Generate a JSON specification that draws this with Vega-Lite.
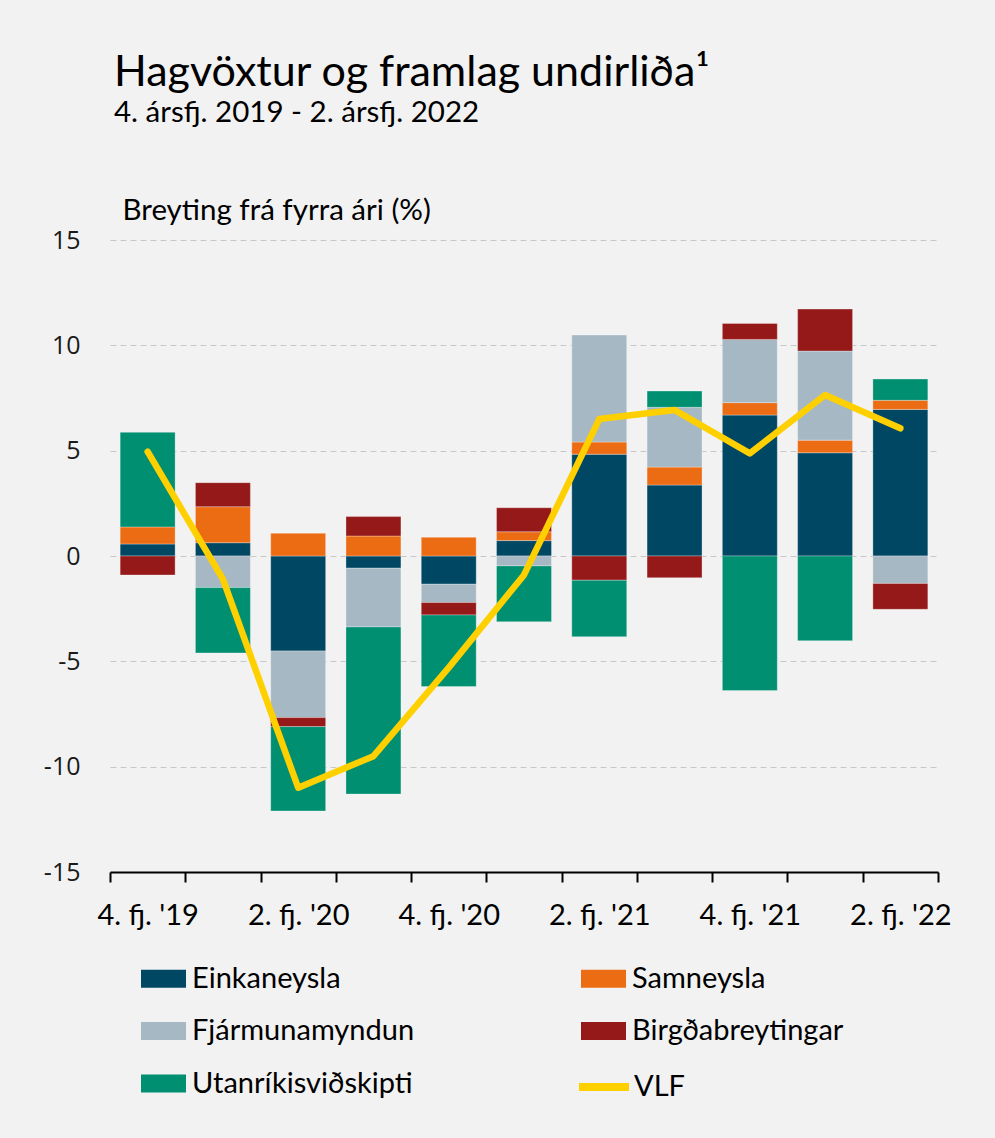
{
  "$schema": "https://vega.github.io/schema/vega-lite/v6.json",
  "width": 828,
  "height": 632,
  "autosize": {"type": "none"},
  "padding": {"left": 110, "top": 240, "right": 57, "bottom": 266},
  "background": "#F2F2F2",
  "config": {
    "view": {"stroke": null},
    "font": "Lato"
  },
  "title": {
    "text": "Hagvöxtur og framlag undirliða¹",
    "subtitle": "4. ársfj. 2019 - 2. ársfj. 2022",
    "anchor": "start",
    "frame": "group",
    "dx": 4,
    "offset": 68,
    "font": "Lato",
    "fontSize": 43,
    "fontWeight": "normal",
    "color": "#000000",
    "subtitleFont": "Lato",
    "subtitleFontSize": 29.5,
    "subtitleColor": "#000000",
    "subtitlePadding": 4
  },
  "resolve": {"scale": {"color": "independent"}},
  "datasets": {
    "bars": [
      {"q": "4. fj. '19", "series": "Einkaneysla", "k": 1, "value": 0.57},
      {"q": "4. fj. '19", "series": "Samneysla", "k": 2, "value": 0.81},
      {"q": "4. fj. '19", "series": "Birgðabreytingar", "k": 4, "value": -0.9},
      {"q": "4. fj. '19", "series": "Utanríkisviðskipti", "k": 5, "value": 4.49},
      {"q": "1. fj. '20", "series": "Einkaneysla", "k": 1, "value": 0.63},
      {"q": "1. fj. '20", "series": "Samneysla", "k": 2, "value": 1.71},
      {"q": "1. fj. '20", "series": "Fjármunamyndun", "k": 3, "value": -1.5},
      {"q": "1. fj. '20", "series": "Birgðabreytingar", "k": 4, "value": 1.14},
      {"q": "1. fj. '20", "series": "Utanríkisviðskipti", "k": 5, "value": -3.1},
      {"q": "2. fj. '20", "series": "Einkaneysla", "k": 1, "value": -4.51},
      {"q": "2. fj. '20", "series": "Samneysla", "k": 2, "value": 1.08},
      {"q": "2. fj. '20", "series": "Fjármunamyndun", "k": 3, "value": -3.16},
      {"q": "2. fj. '20", "series": "Birgðabreytingar", "k": 4, "value": -0.43},
      {"q": "2. fj. '20", "series": "Utanríkisviðskipti", "k": 5, "value": -4.0},
      {"q": "3. fj. '20", "series": "Einkaneysla", "k": 1, "value": -0.58},
      {"q": "3. fj. '20", "series": "Samneysla", "k": 2, "value": 0.95},
      {"q": "3. fj. '20", "series": "Fjármunamyndun", "k": 3, "value": -2.79},
      {"q": "3. fj. '20", "series": "Birgðabreytingar", "k": 4, "value": 0.92},
      {"q": "3. fj. '20", "series": "Utanríkisviðskipti", "k": 5, "value": -7.93},
      {"q": "4. fj. '20", "series": "Einkaneysla", "k": 1, "value": -1.34},
      {"q": "4. fj. '20", "series": "Samneysla", "k": 2, "value": 0.89},
      {"q": "4. fj. '20", "series": "Fjármunamyndun", "k": 3, "value": -0.87},
      {"q": "4. fj. '20", "series": "Birgðabreytingar", "k": 4, "value": -0.59},
      {"q": "4. fj. '20", "series": "Utanríkisviðskipti", "k": 5, "value": -3.4},
      {"q": "1. fj. '21", "series": "Einkaneysla", "k": 1, "value": 0.73},
      {"q": "1. fj. '21", "series": "Samneysla", "k": 2, "value": 0.42},
      {"q": "1. fj. '21", "series": "Fjármunamyndun", "k": 3, "value": -0.47},
      {"q": "1. fj. '21", "series": "Birgðabreytingar", "k": 4, "value": 1.14},
      {"q": "1. fj. '21", "series": "Utanríkisviðskipti", "k": 5, "value": -2.65},
      {"q": "2. fj. '21", "series": "Einkaneysla", "k": 1, "value": 4.83},
      {"q": "2. fj. '21", "series": "Samneysla", "k": 2, "value": 0.58},
      {"q": "2. fj. '21", "series": "Fjármunamyndun", "k": 3, "value": 5.08},
      {"q": "2. fj. '21", "series": "Birgðabreytingar", "k": 4, "value": -1.15},
      {"q": "2. fj. '21", "series": "Utanríkisviðskipti", "k": 5, "value": -2.68},
      {"q": "3. fj. '21", "series": "Einkaneysla", "k": 1, "value": 3.37},
      {"q": "3. fj. '21", "series": "Samneysla", "k": 2, "value": 0.85},
      {"q": "3. fj. '21", "series": "Fjármunamyndun", "k": 3, "value": 2.84},
      {"q": "3. fj. '21", "series": "Birgðabreytingar", "k": 4, "value": -1.03},
      {"q": "3. fj. '21", "series": "Utanríkisviðskipti", "k": 5, "value": 0.77},
      {"q": "4. fj. '21", "series": "Einkaneysla", "k": 1, "value": 6.69},
      {"q": "4. fj. '21", "series": "Samneysla", "k": 2, "value": 0.59},
      {"q": "4. fj. '21", "series": "Fjármunamyndun", "k": 3, "value": 3.0},
      {"q": "4. fj. '21", "series": "Birgðabreytingar", "k": 4, "value": 0.76},
      {"q": "4. fj. '21", "series": "Utanríkisviðskipti", "k": 5, "value": -6.39},
      {"q": "1. fj. '22", "series": "Einkaneysla", "k": 1, "value": 4.9},
      {"q": "1. fj. '22", "series": "Samneysla", "k": 2, "value": 0.6},
      {"q": "1. fj. '22", "series": "Fjármunamyndun", "k": 3, "value": 4.23},
      {"q": "1. fj. '22", "series": "Birgðabreytingar", "k": 4, "value": 1.99},
      {"q": "1. fj. '22", "series": "Utanríkisviðskipti", "k": 5, "value": -4.02},
      {"q": "2. fj. '22", "series": "Einkaneysla", "k": 1, "value": 6.96},
      {"q": "2. fj. '22", "series": "Samneysla", "k": 2, "value": 0.43},
      {"q": "2. fj. '22", "series": "Fjármunamyndun", "k": 3, "value": -1.3},
      {"q": "2. fj. '22", "series": "Birgðabreytingar", "k": 4, "value": -1.23},
      {"q": "2. fj. '22", "series": "Utanríkisviðskipti", "k": 5, "value": 1.01}
    ],
    "vlf": [
      {"q": "4. fj. '19", "series": "VLF", "value": 4.95},
      {"q": "1. fj. '20", "series": "VLF", "value": -1.1},
      {"q": "2. fj. '20", "series": "VLF", "value": -11.0},
      {"q": "3. fj. '20", "series": "VLF", "value": -9.5},
      {"q": "4. fj. '20", "series": "VLF", "value": -5.3},
      {"q": "1. fj. '21", "series": "VLF", "value": -0.9},
      {"q": "2. fj. '21", "series": "VLF", "value": 6.5},
      {"q": "3. fj. '21", "series": "VLF", "value": 6.93},
      {"q": "4. fj. '21", "series": "VLF", "value": 4.87},
      {"q": "1. fj. '22", "series": "VLF", "value": 7.64},
      {"q": "2. fj. '22", "series": "VLF", "value": 6.06}
    ]
  },
  "layer": [
    {
      "data": {"name": "bars"},
      "mark": {"type": "bar", "width": {"band": 0.73}, "stroke": "#ffffff", "strokeWidth": 0.6, "strokeOpacity": 0.5},
      "encoding": {
        "x": {
          "field": "q",
          "type": "nominal",
          "sort": null,
          "scale": {"paddingInner": 0, "paddingOuter": 0},
          "axis": {
            "title": null,
            "labelAngle": 0,
            "tickBand": "extent",
            "labelExpr": "(substring(datum.value,0,1)=='2' || substring(datum.value,0,1)=='4') ? datum.value : ''",
            "labelFont": "Lato",
            "labelFontSize": 29,
            "labelColor": "#000000",
            "labelPadding": 19,
            "domainColor": "#000000",
            "domainWidth": 2,
            "tickColor": "#000000",
            "tickWidth": 2,
            "tickSize": 10,
            "grid": false
          }
        },
        "y": {
          "field": "value",
          "type": "quantitative",
          "stack": "zero",
          "scale": {"domain": [-15, 15], "nice": false},
          "axis": {
            "title": "Breyting frá fyrra ári (%)",
            "titleAngle": 0,
            "titleAlign": "left",
            "titleBaseline": "alphabetic",
            "titleX": 12,
            "titleY": -21,
            "titleFont": "Lato",
            "titleFontSize": 29.5,
            "titleFontWeight": "normal",
            "titleColor": "#000000",
            "values": [-15, -10, -5, 0, 5, 10, 15],
            "labelExpr": "replace(datum.label, '−', '-')",
            "labelFont": "Open Sans",
            "labelFontSize": 25,
            "labelColor": "#1a1a1a",
            "labelPadding": 30,
            "domain": false,
            "ticks": false,
            "grid": true,
            "gridColor": "#C8C8C8",
            "gridDash": [6, 4],
            "gridWidth": 1
          }
        },
        "color": {
          "field": "series",
          "type": "nominal",
          "scale": {
            "domain": ["Einkaneysla", "Samneysla", "Fjármunamyndun", "Birgðabreytingar", "Utanríkisviðskipti"],
            "range": ["#004764", "#EC6C14", "#A6B8C4", "#951919", "#008F70"]
          },
          "legend": {
            "title": null,
            "orient": "none",
            "legendX": 31,
            "legendY": 716,
            "direction": "horizontal",
            "columns": 2,
            "columnPadding": 166,
            "rowPadding": 14.5,
            "labelFont": "Lato",
            "labelFontSize": 29,
            "labelColor": "#000000",
            "labelOffset": 6,
            "labelLimit": 400,
            "symbolSize": 2025,
            "symbolType": "M-1,-0.4H1V0.4H-1Z",
            "symbolStrokeWidth": 0
          }
        },
        "order": {"field": "k", "type": "quantitative"}
      }
    },
    {
      "mark": {"type": "rule", "color": "#000000", "strokeWidth": 2},
      "encoding": {"y": {"datum": 0, "type": "quantitative"}}
    },
    {
      "data": {"name": "vlf"},
      "mark": {"type": "line", "strokeWidth": 6.5, "strokeCap": "round", "strokeJoin": "round"},
      "encoding": {
        "x": {"field": "q", "type": "nominal", "sort": null},
        "y": {"field": "value", "type": "quantitative"},
        "color": {
          "field": "series",
          "type": "nominal",
          "scale": {"domain": ["VLF"], "range": ["#FFD000"]},
          "legend": {
            "title": null,
            "orient": "none",
            "legendX": 465,
            "legendY": 818,
            "labelFont": "Lato",
            "labelFontSize": 29,
            "labelColor": "#000000",
            "labelOffset": 1,
            "symbolSize": 2500,
            "symbolType": "stroke",
            "symbolStrokeWidth": 8
          }
        }
      }
    }
  ]
}
